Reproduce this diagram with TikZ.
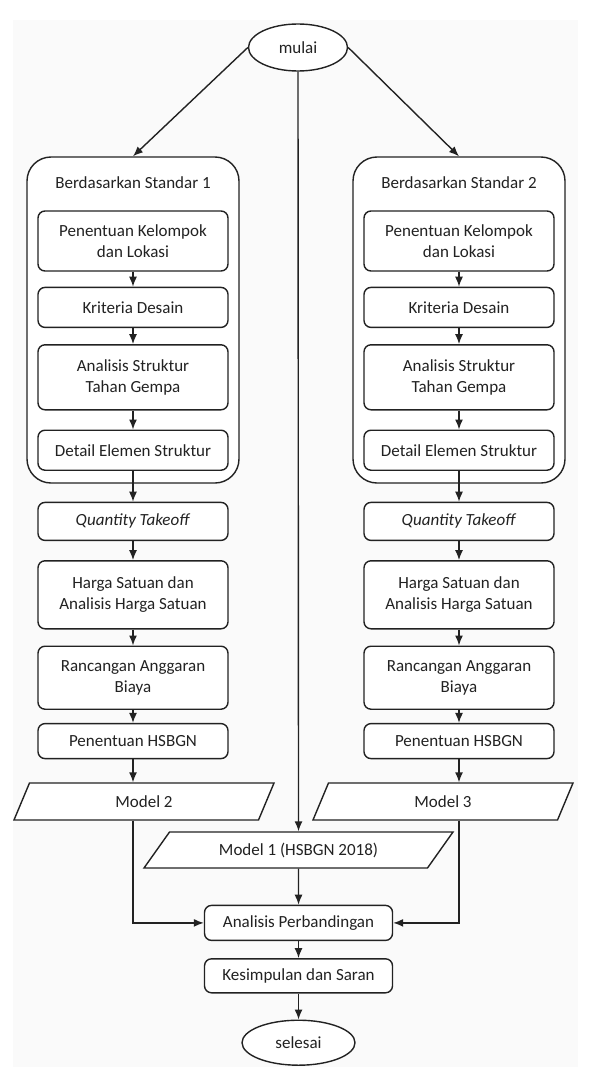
\documentclass[tikz,border=0pt]{standalone}
\usepackage{fontspec}
\setmainfont{Carlito}
\usetikzlibrary{arrows.meta,positioning,shapes.geometric}
\definecolor{Ink}{HTML}{222222}
\definecolor{Canvas}{HTML}{FAFAFA}
\tikzset{
  procbox/.style={draw=Ink,fill=white,line width=1.4pt,rounded corners=7pt,minimum width=190pt,align=center,inner sep=2pt,text=Ink,font=\fontsize{17}{21.5}\selectfont},
  group/.style={draw=Ink,fill=white,line width=1.4pt,rounded corners=24pt,minimum width=212pt,minimum height=326pt},
  grouptitle/.style={text=Ink,font=\fontsize{17}{21.5}\selectfont},
  term/.style={ellipse,draw=Ink,fill=white,line width=1.4pt,inner sep=0pt,text=Ink,font=\fontsize{17}{21.5}\selectfont},
  data/.style={trapezium,trapezium stretches body,draw=Ink,fill=white,line width=1.4pt,inner sep=0pt,text=Ink,font=\fontsize{17}{21.5}\selectfont},
  flow/.style={-{Latex[length=10pt,width=8pt]},draw=Ink,line width=1.4pt}
}
\begin{document}
\begin{tikzpicture}[x=1pt,y=1pt,node distance=16pt]
  \useasboundingbox (0,0) rectangle (596,-1081);
  \fill[Canvas] (13,-20) rectangle (578,-1067);
  \node[term,minimum width=99pt,minimum height=47pt] (mulai) at (298,-47.5) {mulai};
  % standar 1
  \node[group] (grp1) at (133,-320) {};
  \node[grouptitle] (std1) at (133,-183) {Berdasarkan Standar 1};
  \node[procbox,minimum height=60pt,below=54pt of grp1.north] (pk1) {Penentuan Kelompok\\dan Lokasi};
  \node[procbox,minimum height=40pt,below=15pt of pk1] (kd1) {Kriteria Desain};
  \node[procbox,minimum height=65pt,below=of kd1] (as1) {Analisis Struktur\\Tahan Gempa};
  \node[procbox,minimum height=40pt,below=19pt of as1] (de1) {Detail Elemen Struktur};
  \node[procbox,minimum height=38pt,below=18pt of grp1] (qt1) {\textit{Quantity Takeoff}};
  \node[procbox,minimum height=68pt,below=19pt of qt1] (hs1) {Harga Satuan dan\\Analisis Harga Satuan};
  \node[procbox,minimum height=63pt,below=of hs1] (ra1) {Rancangan Anggaran\\Biaya};
  \node[procbox,minimum height=35pt,below=13pt of ra1] (hb1) {Penentuan HSBGN};
  \node[data,trapezium left angle=37.6,trapezium right angle=142.4,minimum width=260pt,minimum height=37pt,below=23pt of hb1,xshift=11pt] (m2) {Model 2};
  % standar 2
  \node[group] (grp2) at (459,-320) {};
  \node[grouptitle] (std2) at (459,-183) {Berdasarkan Standar 2};
  \node[procbox,minimum height=60pt,below=54pt of grp2.north] (pk2) {Penentuan Kelompok\\dan Lokasi};
  \node[procbox,minimum height=40pt,below=15pt of pk2] (kd2) {Kriteria Desain};
  \node[procbox,minimum height=65pt,below=of kd2] (as2) {Analisis Struktur\\Tahan Gempa};
  \node[procbox,minimum height=40pt,below=19pt of as2] (de2) {Detail Elemen Struktur};
  \node[procbox,minimum height=38pt,below=18pt of grp2] (qt2) {\textit{Quantity Takeoff}};
  \node[procbox,minimum height=68pt,below=19pt of qt2] (hs2) {Harga Satuan dan\\Analisis Harga Satuan};
  \node[procbox,minimum height=63pt,below=of hs2] (ra2) {Rancangan Anggaran\\Biaya};
  \node[procbox,minimum height=35pt,below=13pt of ra2] (hb2) {Penentuan HSBGN};
  \node[data,trapezium left angle=37.6,trapezium right angle=142.4,minimum width=260pt,minimum height=37pt,below=23pt of hb2,xshift=-16pt] (m3) {Model 3};
  % tengah
  \node[data,trapezium left angle=30.1,trapezium right angle=149.9,minimum width=309pt,minimum height=36pt] (m1) at (298.5,-850) {Model 1 (HSBGN 2018)};
  \node[procbox,minimum width=188pt,minimum height=35pt,below=36pt of m1] (ap) {Analisis Perbandingan};
  \node[procbox,minimum width=188pt,minimum height=34pt,below=17pt of ap] (ks) {Kesimpulan dan Saran};
  \node[term,minimum width=113pt,minimum height=45pt,below=26pt of ks] (selesai) {selesai};
  % panah
  \draw[flow] (mulai.west) -- (grp1.north);
  \draw[flow] (mulai.east) -- (grp2.north);
  \draw[flow] (mulai.south) -- (m1.north);
  \draw[flow] (pk1) -- (kd1);
  \draw[flow] (kd1) -- (as1);
  \draw[flow] (as1) -- (de1);
  \draw[flow] (de1) -- (qt1);
  \draw[flow] (qt1) -- (hs1);
  \draw[flow] (hs1) -- (ra1);
  \draw[flow] (ra1) -- (hb1);
  \draw[flow] (hb1) -- (hb1.south |- m2.north);
  \draw[flow] (pk2) -- (kd2);
  \draw[flow] (kd2) -- (as2);
  \draw[flow] (as2) -- (de2);
  \draw[flow] (de2) -- (qt2);
  \draw[flow] (qt2) -- (hs2);
  \draw[flow] (hs2) -- (ra2);
  \draw[flow] (ra2) -- (hb2);
  \draw[flow] (hb2) -- (hb2.south |- m3.north);
  \draw[flow] (hb1.south |- m2.south) |- (ap.west);
  \draw[flow] (hb2.south |- m3.south) |- (ap.east);
  \draw[flow] (m1) -- (ap);
  \draw[flow] (ap) -- (ks);
  \draw[flow] (ks) -- (selesai);
\end{tikzpicture}
\end{document}
